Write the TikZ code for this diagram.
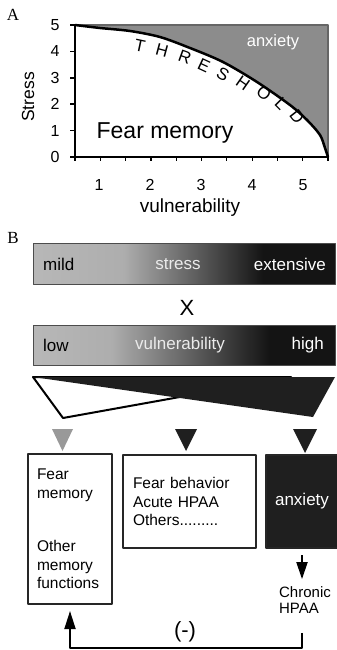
\documentclass[tikz,border=0pt]{standalone}
\usepackage{fontspec}
\setmainfont{Liberation Sans}
\newfontfamily\panelfont{Liberation Serif}
\usetikzlibrary{arrows.meta}
\pgfdeclarehorizontalshading{stressgrad}{100bp}{color(0bp)=(black!28); color(25bp)=(black!28); color(40bp)=(black!32); color(63bp)=(black!92); color(100bp)=(black!92)}
\pgfdeclarehorizontalshading{vulngrad}{100bp}{color(0bp)=(black!28); color(25bp)=(black!28); color(38bp)=(black!32); color(64bp)=(black!92); color(100bp)=(black!92)}

\begin{document}
\begin{tikzpicture}[x=1pt,y=-1pt,line join=round,>={Triangle[width=11pt,length=18pt]}]
\tikzset{txt/.style={font=\fontsize{#1}{#1}\selectfont,inner sep=0pt},
	panel/.style={font=\panelfont\fontsize{17}{17}\selectfont,inner sep=0pt},
	box/.style={draw=black!85,line width=2pt,inner xsep=9pt,align=left,font=\fontsize{15.5}{18.5}\selectfont},
	bar/.style={draw=black!70,line width=1pt}}
\useasboundingbox (0,0) rectangle (337,650);
\node[panel] (lA) at (13,15) {A};
\fill[black!45] plot[smooth] coordinates {(75,25) (100,28) (130,31) (160,37) (190,48) (223,62) (257,82) (290,105) (307,120) (320,135) (325,148) (328,157)} -- (328,25) -- cycle;
\draw[black!60,line width=1.5pt] (75,25) -- (328,25) -- (328,157);
\draw[line width=2.5pt] plot[smooth] coordinates {(75,25) (100,28) (130,31) (160,37) (190,48) (223,62) (257,82) (290,105) (307,120) (320,135) (325,148) (328,157)};
\draw[line width=2.5pt] (75,25) -- (75,157) -- (328,157);
\foreach \v in {0,...,5} {
	\draw[line width=1.5pt] (70,{157-26.4*\v}) -- (75,{157-26.4*\v});
	\node[txt=16] (y\v) at (55,{157-26.4*\v}) {\v};
}
\foreach \k in {0,...,10} \draw[line width=1.2pt] ({75+25.3*\k},157) -- ({75+25.3*\k},161);
\foreach \v in {1,...,5} \node[txt=16] (x\v) at ({99+51*(\v-1)},185) {\v};
\node[txt=19] (xlab) at (190,208) {vulnerability};
\node[txt=17.5,rotate=90] (ylab) at (28,97) {Stress};
\node[txt=23] (fmem) at (165,133) {Fear memory};
\node[txt=16.5,text=white] (anxA) at (273,42) {anxiety};
\foreach \c/\x/\y/\r [count=\i] in {T/140/46/-12, H/162/50/-15, R/185/57/-20, E/204/66/-25, S/223/74/-30, H/243/83/-35, O/264/93/-40, L/281/104/-45, D/297/117/-52}
	\node[txt=17,rotate=\r] (th\i) at (\x,\y) {\c};
\node[panel] (lB) at (13,238) {B};
\shade[shading=stressgrad,bar] (33,243) rectangle (335,284);
\node[txt=17,anchor=west] (mild) at (43,264) {mild};
\node[txt=17,text=black!8] (str) at (178,264) {stress};
\node[txt=17,anchor=east,text=white] (ext) at (326,264) {extensive};
\node[txt=22] (times) at (187,308) {X};
\shade[shading=vulngrad,bar] (33,325) rectangle (335,365);
\node[txt=17,anchor=west] (low) at (43,345) {low};
\node[txt=17,text=black!8] (vul) at (180,345) {vulnerability};
\node[txt=17,anchor=east,text=white] (high) at (324,345) {high};
\draw[line width=2pt,fill=white] (33,377) -- (63,418) -- (291,377) -- cycle;
\fill[black!88] (33,377) -- (335,377) -- (313,417) -- cycle;
\fill[black!40] (52,429) -- (73,429) -- (62.5,451) -- cycle;
\fill[black!88] (175,429) -- (197,429) -- (186,451) -- cycle;
\fill[black!88] (293,429) -- (317,429) -- (305,453) -- cycle;
\node[box,text width=66pt,minimum height=150pt,anchor=north west] (mem) at (27,453) {Fear\\memory\\[35pt]Other\\memory\\functions};
\node[box,text width=113pt,inner xsep=10pt,minimum height=93pt,anchor=north west] (beh) at (122,454) {Fear behavior\\Acute HPAA\\Others.........};
\node[box,fill=black!88,text=white,minimum width=72pt,minimum height=93pt,anchor=north west,align=center,font=\fontsize{17}{17}\selectfont] (anx) at (265,454) {anxiety};
\node[txt=15,font=\fontsize{15}{16.5}\selectfont,align=left] (chr) at (305,600) {Chronic\\HPAA};
\coordinate (fb) at (0,648);
\draw[->,line width=2pt,>={Triangle[width=11pt,length=17pt]},shorten <=6pt,shorten >=7pt] (anx.south) -- (anx.south |- chr.north);
\draw[->,line width=1.8pt,shorten >=6pt] (anx.south |- chr.south) ++(0,19) -- (anx.south |- fb) -| (mem.south);
\node[txt=22] (neg) at (185,632) {(-)};
\end{tikzpicture}
\end{document}
